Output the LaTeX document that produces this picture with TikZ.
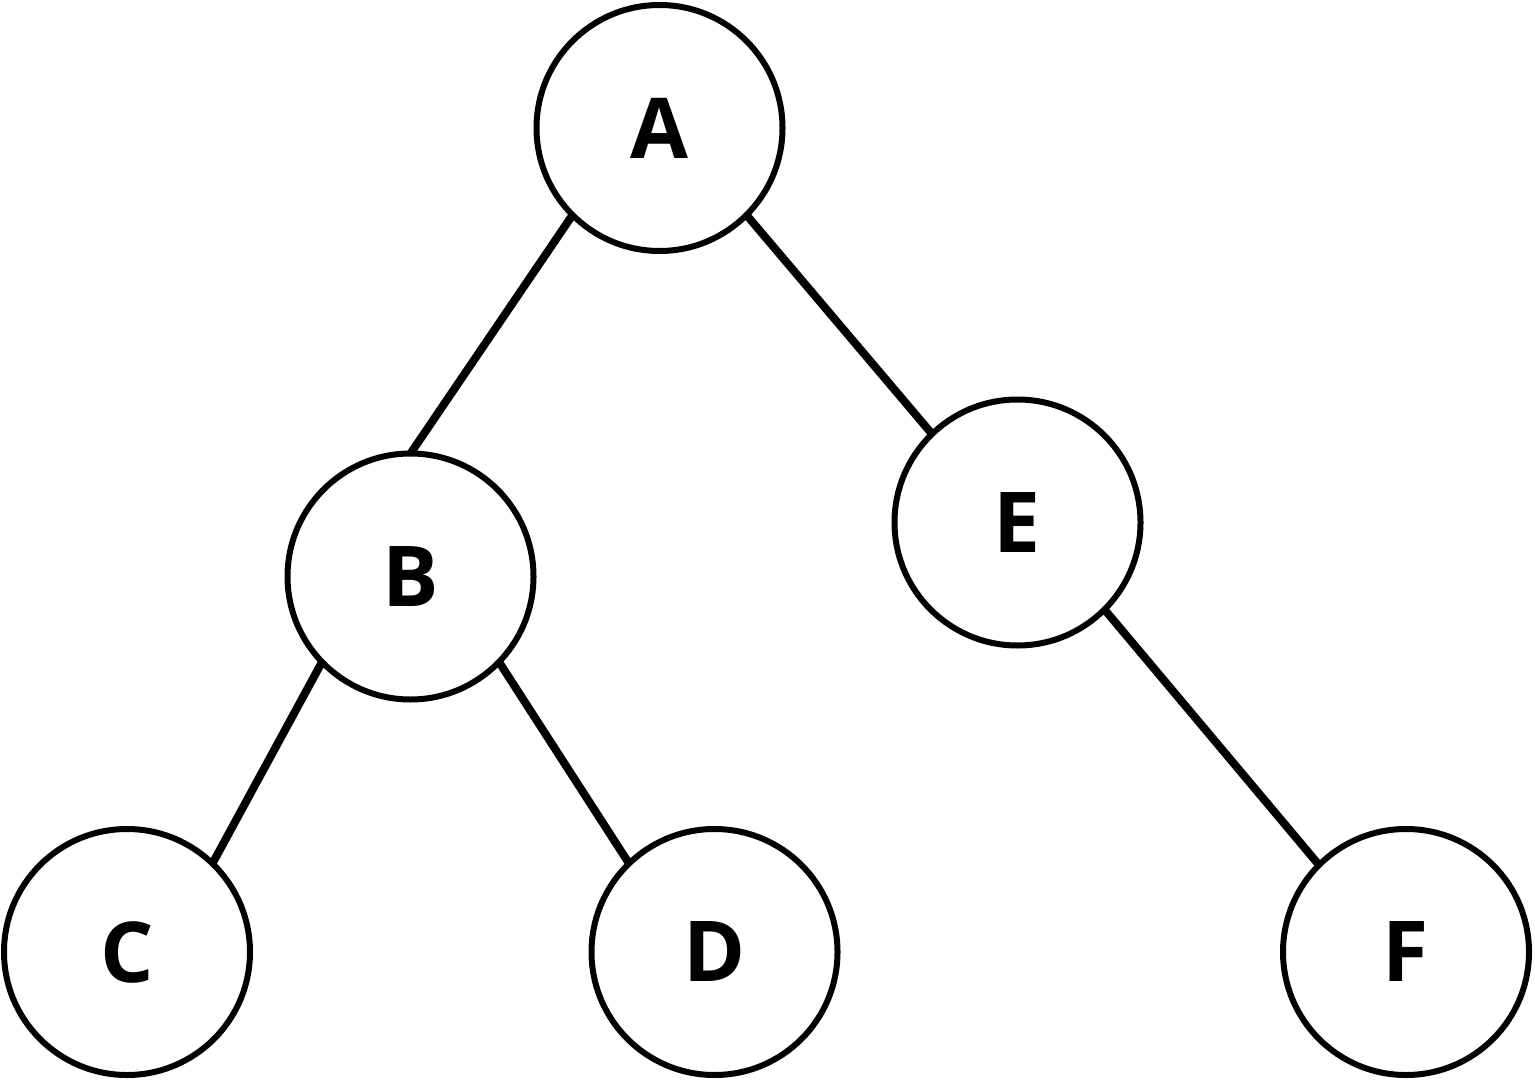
\documentclass[tikz,border=0pt]{standalone}
\usepackage{fontspec}
\setmainfont{Open Sans}
\begin{document}
\begin{tikzpicture}[x=0.5pt,y=-0.5pt,
  treenode/.style={circle,draw=black,line width=3pt,fill=white,inner sep=0pt,outer sep=0pt,
    minimum size=123pt,font=\fontsize{42}{50}\selectfont\bfseries},
  treeedge/.style={draw=black,line width=4pt}]
\useasboundingbox (0,0) rectangle (1535,1080);
\node[treenode] (A) at (659.5,128) {A};
\node[treenode] (B) at (410.5,576.5) {B};
\node[treenode] (E) at (1017.5,522.5) {E};
\node[treenode] (C) at (127,952) {C};
\node[treenode] (D) at (714.5,952) {D};
\node[treenode] (F) at (1406,952) {F};
\draw[treeedge] (A.-135) -- (B.90);
\draw[treeedge] (A.-45) -- (E.134);
\draw[treeedge] (B.-136) -- (C.46);
\draw[treeedge] (B.-44) -- (D.134);
\draw[treeedge] (E.-45) -- (F.135);
\end{tikzpicture}
\end{document}
